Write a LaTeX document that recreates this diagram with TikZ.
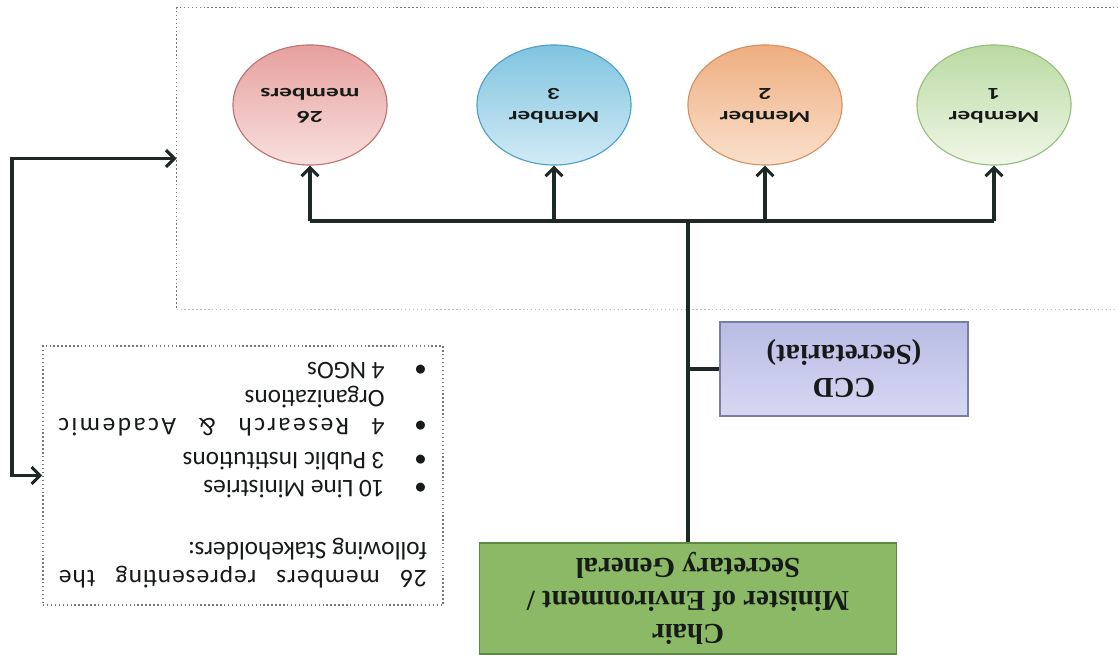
\documentclass[tikz,border=0pt]{standalone}
\usepackage{fontspec}
\setmainfont{Liberation Serif}
\newfontfamily\calfont{Carlito}
\usepackage{graphicx}
\usetikzlibrary{shapes.geometric,arrows.meta}
\definecolor{linec}{RGB}{30,40,38}
\definecolor{dotc}{RGB}{120,120,120}
\definecolor{dotlight}{RGB}{190,190,190}
\definecolor{chairF}{RGB}{140,185,102}
\definecolor{chairD}{RGB}{95,135,70}
\definecolor{ccdT}{RGB}{184,188,228}
\definecolor{ccdB}{RGB}{214,216,242}
\definecolor{ccdD}{RGB}{120,126,165}
\definecolor{txt}{RGB}{22,26,24}
\definecolor{aT}{RGB}{230,160,158}
\definecolor{aB}{RGB}{248,224,222}
\definecolor{aD}{RGB}{190,115,112}
\definecolor{bT}{RGB}{128,196,224}
\definecolor{bB}{RGB}{210,235,245}
\definecolor{bD}{RGB}{78,160,200}
\definecolor{cT}{RGB}{238,174,128}
\definecolor{cB}{RGB}{250,224,204}
\definecolor{cD}{RGB}{212,145,98}
\definecolor{dT}{RGB}{186,218,162}
\definecolor{dB}{RGB}{240,247,232}
\definecolor{dD}{RGB}{150,190,126}
\newcommand{\flip}[1]{\rotatebox[origin=c]{180}{\begin{tabular}{@{}c@{}}#1\end{tabular}}}
\newcommand{\flipwide}[1]{\rotatebox[origin=c]{180}{\scalebox{1.5}[1]{\begin{tabular}{@{}c@{}}#1\end{tabular}}}}
\begin{document}
\begin{tikzpicture}[x=0.025cm,y=-0.025cm,
  conn/.style={draw=linec,line width=2.5pt,line join=miter},
  tip/.style={-{Straight Barb[length=6pt,width=12pt,line width=2.2pt]}},
  oval/.style={ellipse,line width=0.8pt,minimum width=3.85cm,minimum height=3cm,inner sep=0pt,text=txt,
    font=\calfont\bfseries\fontsize{12}{16.5}\selectfont},
  dotbox/.style={draw=dotc,line width=1pt,dash pattern=on 1pt off 1.8pt},
  serifbox/.style={text=txt,inner sep=0pt,font=\bfseries\fontsize{20.5}{23.5}\selectfont}]
\fill[white] (0,0) rectangle (1118,655);
\useasboundingbox (0,0) rectangle (1118,655);
% group frame of the members
\node[inner sep=0pt,minimum width=23.525cm,minimum height=7.525cm] (grp) at (647.5,158.5) {};
\draw[dotbox] (grp.north east) -- (grp.north west) -- (grp.south west);
\draw[dotbox,draw=dotlight] (grp.south west) -- (grp.south east);
% members
\node[oval,draw=aD,top color=aT,bottom color=aB] (m26) at (310,105) {\flipwide{26\\members}};
\node[oval,draw=bD,top color=bT,bottom color=bB] (m3) at (554,105) {\flipwide{Member\\3}};
\node[oval,draw=cD,top color=cT,bottom color=cB] (m2) at (765,105) {\flipwide{Member\\2}};
\node[oval,draw=dD,top color=dT,bottom color=dB] (m1) at (994,105) {\flipwide{Member\\1}};
% chair and secretariat
\node[serifbox,draw=chairD,fill=chairF,line width=1pt,minimum width=10.425cm,minimum height=2.775cm] (chair) at (688,598.5)
  {\flip{Chair\\Minister of Environment /\\Secretary General}};
\node[serifbox,draw=ccdD,top color=ccdT,bottom color=ccdB,line width=1pt,minimum width=6.2cm,minimum height=2.35cm] (ccd) at (844,369)
  {\flip{CCD\\(Secretariat)}};
% stakeholders box
\node[dotbox,inner sep=0pt,minimum width=10cm,minimum height=6.475cm,text=txt] (sh) at (243,475.5)
  {\rotatebox[origin=c]{180}{\parbox{261.5pt}{\calfont\fontsize{18}{20}\selectfont
  \makebox[\linewidth][s]{\addfontfeature{LetterSpace=4}26 members representing the}\\
  following Stakeholders:\\[24pt]
  \makebox[30pt][l]{\textbullet}10 Line Ministries\\
  \makebox[30pt][l]{\textbullet}3 Public Institutions\\[4pt]
  \makebox[30pt][l]{\textbullet}\makebox[232pt][s]{\addfontfeature{LetterSpace=10}4 Research \& Academic}\\
  \hspace*{30pt}Organizations\\
  \makebox[30pt][l]{\textbullet}4 NGOs}}};
% connectors
\coordinate (bus) at (688,221);
\coordinate (side) at (12,0);
\draw[conn] (chair.north) -- (bus);
\draw[conn] (chair.north |- ccd.west) -- (ccd.west);
\draw[conn] (m26.south |- bus) -- (m1.south |- bus);
\foreach \m in {m26,m3,m2,m1} \draw[conn,tip] (\m.south |- bus) -- (\m.south);
\draw[conn,{Straight Barb[length=6pt,width=12pt,line width=2.2pt]}-{Straight Barb[length=6pt,width=12pt,line width=2.2pt]}]
  (sh.west) -- (sh.west -| side) -- (grp.west -| side) -- (grp.west);
\end{tikzpicture}
\end{document}
